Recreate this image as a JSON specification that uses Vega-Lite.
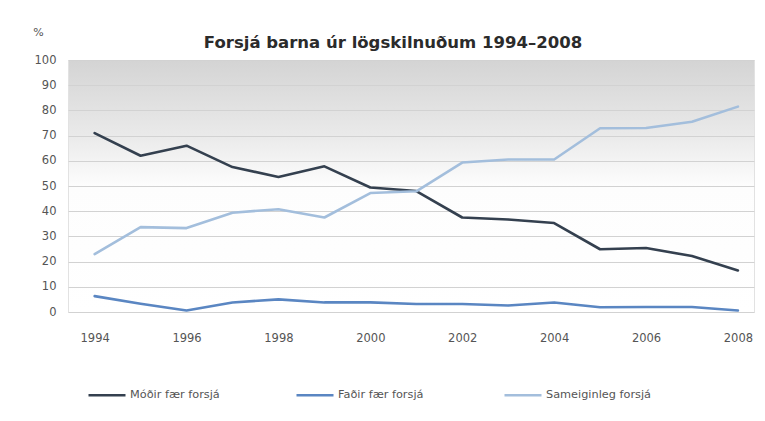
{
  "$schema": "https://vega.github.io/schema/vega-lite/v6.json",
  "width": 686,
  "height": 252,
  "autosize": {"type": "none"},
  "padding": {"left": 68, "top": 60, "right": 11, "bottom": 109},
  "background": "#ffffff",
  "title": {
    "text": "Forsjá barna úr lögskilnuðum 1994–2008",
    "font": "DejaVu Sans",
    "fontSize": 16.5,
    "fontWeight": "bold",
    "color": "#2b2b2b",
    "anchor": "middle",
    "dx": -18,
    "offset": -25
  },
  "config": {
    "font": "DejaVu Sans",
    "view": {
      "stroke": "#e2e2e2",
      "fill": {
        "gradient": "linear",
        "x1": 0, "y1": 0, "x2": 0, "y2": 1,
        "stops": [
          {"offset": 0, "color": "#d4d4d4"},
          {"offset": 0.3, "color": "#eaeaea"},
          {"offset": 0.5, "color": "#fdfdfd"},
          {"offset": 1, "color": "#ffffff"}
        ]
      }
    }
  },
  "data": {
    "values": [
      {"year": 1994, "series": "Móðir fær forsjá", "value": 71},
      {"year": 1995, "series": "Móðir fær forsjá", "value": 62},
      {"year": 1996, "series": "Móðir fær forsjá", "value": 66},
      {"year": 1997, "series": "Móðir fær forsjá", "value": 57.5},
      {"year": 1998, "series": "Móðir fær forsjá", "value": 53.6},
      {"year": 1999, "series": "Móðir fær forsjá", "value": 57.8},
      {"year": 2000, "series": "Móðir fær forsjá", "value": 49.4},
      {"year": 2001, "series": "Móðir fær forsjá", "value": 48},
      {"year": 2002, "series": "Móðir fær forsjá", "value": 37.5},
      {"year": 2003, "series": "Móðir fær forsjá", "value": 36.7},
      {"year": 2004, "series": "Móðir fær forsjá", "value": 35.3},
      {"year": 2005, "series": "Móðir fær forsjá", "value": 24.9},
      {"year": 2006, "series": "Móðir fær forsjá", "value": 25.4},
      {"year": 2007, "series": "Móðir fær forsjá", "value": 22.2},
      {"year": 2008, "series": "Móðir fær forsjá", "value": 16.5},
      {"year": 1994, "series": "Faðir fær forsjá", "value": 6.3},
      {"year": 1995, "series": "Faðir fær forsjá", "value": 3.3},
      {"year": 1996, "series": "Faðir fær forsjá", "value": 0.6},
      {"year": 1997, "series": "Faðir fær forsjá", "value": 3.8},
      {"year": 1998, "series": "Faðir fær forsjá", "value": 5},
      {"year": 1999, "series": "Faðir fær forsjá", "value": 3.8},
      {"year": 2000, "series": "Faðir fær forsjá", "value": 3.8},
      {"year": 2001, "series": "Faðir fær forsjá", "value": 3.2},
      {"year": 2002, "series": "Faðir fær forsjá", "value": 3.2},
      {"year": 2003, "series": "Faðir fær forsjá", "value": 2.6},
      {"year": 2004, "series": "Faðir fær forsjá", "value": 3.8},
      {"year": 2005, "series": "Faðir fær forsjá", "value": 1.9},
      {"year": 2006, "series": "Faðir fær forsjá", "value": 2},
      {"year": 2007, "series": "Faðir fær forsjá", "value": 2},
      {"year": 2008, "series": "Faðir fær forsjá", "value": 0.6},
      {"year": 1994, "series": "Sameiginleg forsjá", "value": 23},
      {"year": 1995, "series": "Sameiginleg forsjá", "value": 33.7},
      {"year": 1996, "series": "Sameiginleg forsjá", "value": 33.3},
      {"year": 1997, "series": "Sameiginleg forsjá", "value": 39.4},
      {"year": 1998, "series": "Sameiginleg forsjá", "value": 40.8},
      {"year": 1999, "series": "Sameiginleg forsjá", "value": 37.5},
      {"year": 2000, "series": "Sameiginleg forsjá", "value": 47.2},
      {"year": 2001, "series": "Sameiginleg forsjá", "value": 47.9},
      {"year": 2002, "series": "Sameiginleg forsjá", "value": 59.3},
      {"year": 2003, "series": "Sameiginleg forsjá", "value": 60.5},
      {"year": 2004, "series": "Sameiginleg forsjá", "value": 60.5},
      {"year": 2005, "series": "Sameiginleg forsjá", "value": 72.9},
      {"year": 2006, "series": "Sameiginleg forsjá", "value": 73},
      {"year": 2007, "series": "Sameiginleg forsjá", "value": 75.5},
      {"year": 2008, "series": "Sameiginleg forsjá", "value": 81.5}
    ]
  },
  "mark": {"type": "line", "strokeWidth": 2.6, "strokeJoin": "round", "strokeCap": "round"},
  "encoding": {
    "x": {
      "field": "year",
      "type": "quantitative",
      "scale": {"domain": [1993.42, 2008.35], "nice": false, "zero": false},
      "axis": {
        "values": [1994, 1996, 1998, 2000, 2002, 2004, 2006, 2008],
        "format": "d",
        "title": null,
        "grid": false,
        "domain": false,
        "ticks": false,
        "labelPadding": 20,
        "labelFontSize": 11.5,
        "labelColor": "#555555",
        "labelFlush": false
      }
    },
    "y": {
      "field": "value",
      "type": "quantitative",
      "scale": {"domain": [0, 100], "nice": false},
      "axis": {
        "values": [0, 10, 20, 30, 40, 50, 60, 70, 80, 90, 100],
        "title": "%",
        "titleAngle": 0,
        "titleX": -30,
        "titleY": -28,
        "titleAlign": "center",
        "titleBaseline": "middle",
        "titleFontSize": 11,
        "titleFontWeight": "normal",
        "titleColor": "#555555",
        "grid": true,
        "gridColor": "#d2d2d2",
        "gridWidth": 1.2,
        "domain": false,
        "ticks": false,
        "labelPadding": 12,
        "labelFontSize": 11.5,
        "labelColor": "#555555"
      }
    },
    "color": {
      "field": "series",
      "type": "nominal",
      "sort": ["Móðir fær forsjá", "Faðir fær forsjá", "Sameiginleg forsjá"],
      "scale": {
        "domain": ["Móðir fær forsjá", "Faðir fær forsjá", "Sameiginleg forsjá"],
        "range": ["#34404f", "#5a86c2", "#a3bedc"]
      },
      "legend": {
        "title": null,
        "orient": "none",
        "direction": "horizontal",
        "legendX": 19,
        "legendY": 315,
        "symbolType": "stroke",
        "symbolSize": 1369,
        "symbolStrokeWidth": 2.5,
        "labelFontSize": 11.3,
        "labelColor": "#555555",
        "labelOffset": 3,
        "gridAlign": "all",
        "columnPadding": 56
      }
    }
  }
}
